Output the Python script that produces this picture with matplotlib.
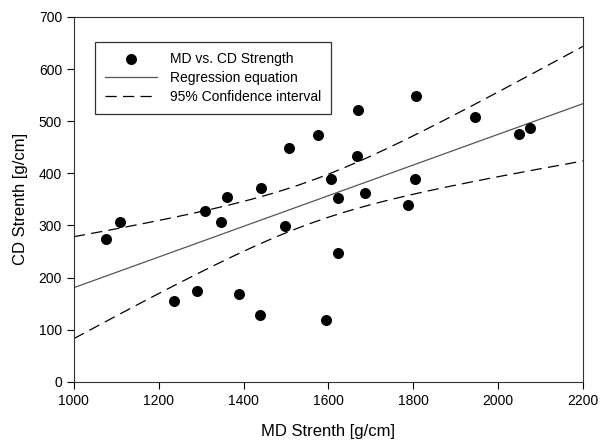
import matplotlib
matplotlib.use('Agg')
import matplotlib.pyplot as plt
import numpy as np

plt.rcParams['font.family'] = ['Liberation Sans', 'DejaVu Sans']

# MD vs. CD strength points
md = np.array([1075, 1109, 1236, 1289, 1308, 1346, 1360, 1390, 1440, 1439,
               1498, 1508, 1575, 1605, 1595, 1623, 1623, 1670, 1668, 1686,
               1807, 1805, 1787, 1945, 2050, 2075])
cd = np.array([274, 306, 155, 175, 328, 306, 355, 168, 371, 129,
               299, 449, 474, 390, 119, 352, 247, 522, 433, 363,
               549, 390, 340, 508, 475, 487])

# regression + 95% confidence band
n = len(md)
slope, intercept = np.polyfit(md, cd, 1)
resid = cd - (slope * md + intercept)
s = np.sqrt(np.sum(resid ** 2) / (n - 2))
t_val = 2.064  # t(0.975, df=24)
xs = np.linspace(1000, 2200, 200)
fit = slope * xs + intercept
half = t_val * s * np.sqrt(1.0 / n + (xs - md.mean()) ** 2 / np.sum((md - md.mean()) ** 2))

fig = plt.figure(figsize=(6.01, 4.44), dpi=100)
ax = fig.add_axes([0.123, 0.140, 0.847, 0.822])

ax.scatter(md, cd, s=48, color='black', zorder=3, label='MD vs. CD Strength')
ax.plot(xs, fit, color='#555555', lw=0.9, label='Regression equation')
ax.plot(xs, fit + half, color='black', lw=0.9, dashes=(9, 5), label='95% Confidence interval')
ax.plot(xs, fit - half, color='black', lw=0.9, dashes=(9, 5))

ax.set_xlim(1000, 2200)
ax.set_ylim(0, 700)
ax.set_xticks(np.arange(1000, 2201, 200))
ax.set_yticks(np.arange(0, 701, 100))
ax.tick_params(direction='out', length=5, labelsize=10, top=False, right=False)
for sp in ax.spines.values():
    sp.set_color('#333333')
ax.set_xlabel('MD Strenth [g/cm]', fontsize=12, labelpad=12)
ax.set_ylabel('CD Strenth [g/cm]', fontsize=12, labelpad=8)

leg = ax.legend(loc='upper left', bbox_to_anchor=(0.041, 0.932), borderaxespad=0,
                fontsize=10, frameon=True, fancybox=False, edgecolor='black',
                handlelength=3.7, borderpad=0.75, labelspacing=0.35,
                handletextpad=0.95, scatterpoints=1)
leg.get_frame().set_linewidth(0.9)

fig.savefig('out.png', dpi=100)
